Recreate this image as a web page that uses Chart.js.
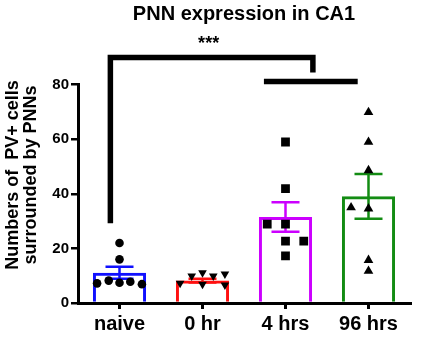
<!DOCTYPE html>
<html>
<head>
<meta charset="utf-8">
<script src="https://cdn.jsdelivr.net/npm/chart.js@4/dist/chart.umd.min.js"></script>
<style>
html,body{margin:0;padding:0;background:#fff;}
#wrap{width:427px;height:354px;}
</style>
</head>
<body>
<div id="wrap"><canvas id="c" width="427" height="354"></canvas></div>
<script>
const categories = ['naive', '0 hr', '4 hrs', '96 hrs'];
const meanValues = [11.1, 8.2, 31.5, 39.1];
const semValues = [2.2, 0.7, 5.4, 8.2];
const naiveValues = [22.0, 16.0, 7.2, 8.2, 7.4, 7.8, 6.9];
const naiveJitter = [0, 0, -0.27, -0.13, 0, 0.13, 0.27];
const hr0Values = [7.2, 9.9, 11.1, 6.9, 9.9, 10.6, 6.6];
const hr0Jitter = [-0.27, -0.13, 0, 0, 0.13, 0.27, 0.27];
const hr4Values = [59.0, 41.9, 28.9, 28.9, 22.7, 22.7, 17.3];
const hr4Jitter = [0, 0, -0.22, 0, 0, 0.22, 0];
const hr96Values = [69.9, 59.0, 48.6, 35.0, 34.6, 15.7, 11.7];
const hr96Jitter = [0, 0, 0, -0.21, 0, 0, 0];
const yTicks = [0, 20, 40, 60, 80];
const titleText = 'PNN expression in CA1';
const yTitleLines = ['Numbers of  PV+ cells', 'surrounded by PNNs'];
const sigLabel = '***';
// bracket geometry in data units (x: category index, y: value)
const bracketMain = {x0: -0.11, x1: 2.33, y: 90, yLeft: 29.2, yRight: 84.5};
const bracketSub = {x0: 1.74, x1: 2.87, y: 81.2};

const colors = ['#1010ff', '#ff1010', '#cc00ff', '#138c13'];
const FONT = "'Liberation Sans', Arial, sans-serif";

function pts(vals, jit, idx) {
  return vals.map((v, k) => ({x: idx + jit[k], y: v}));
}

const overlay = {
  id: 'overlay',
  afterDatasetDraw(chart, args) {
    if (args.index !== 0) return;
    const ctx = chart.ctx, xs = chart.scales.xs, y = chart.scales.y;
    ctx.save();
    ctx.lineWidth = 2.5;
    const cap = 14;
    meanValues.forEach((m, i) => {
      const px = xs.getPixelForValue(i);
      const top = y.getPixelForValue(m + semValues[i]);
      const bot = y.getPixelForValue(m - semValues[i]);
      ctx.strokeStyle = colors[i];
      ctx.beginPath();
      ctx.moveTo(px, top); ctx.lineTo(px, bot);
      ctx.moveTo(px - cap, top); ctx.lineTo(px + cap, top);
      ctx.moveTo(px - cap, bot); ctx.lineTo(px + cap, bot);
      ctx.stroke();
    });
    ctx.restore();
  },
  afterDraw(chart) {
    const ctx = chart.ctx, xs = chart.scales.xs, y = chart.scales.y;
    ctx.save();
    ctx.strokeStyle = '#000';
    ctx.lineWidth = 5.5;
    ctx.lineCap = 'butt';
    ctx.lineJoin = 'miter';
    ctx.beginPath();
    ctx.moveTo(xs.getPixelForValue(bracketMain.x0), y.getPixelForValue(bracketMain.yLeft));
    ctx.lineTo(xs.getPixelForValue(bracketMain.x0), y.getPixelForValue(bracketMain.y));
    ctx.lineTo(xs.getPixelForValue(bracketMain.x1), y.getPixelForValue(bracketMain.y));
    ctx.lineTo(xs.getPixelForValue(bracketMain.x1), y.getPixelForValue(bracketMain.yRight));
    ctx.stroke();
    ctx.beginPath();
    ctx.moveTo(xs.getPixelForValue(bracketSub.x0), y.getPixelForValue(bracketSub.y));
    ctx.lineTo(xs.getPixelForValue(bracketSub.x1), y.getPixelForValue(bracketSub.y));
    ctx.stroke();
    // significance label
    ctx.fillStyle = '#000';
    ctx.font = 'bold 18px ' + FONT;
    ctx.textAlign = 'center';
    ctx.textBaseline = 'middle';
    const mid = (bracketMain.x0 + bracketMain.x1) / 2;
    ctx.fillText(sigLabel, xs.getPixelForValue(mid) - 3, y.getPixelForValue(bracketMain.y) - 13);
    // y title
    ctx.font = 'bold 18px ' + FONT;
    ctx.textBaseline = 'alphabetic';
    ctx.translate(0, 175);
    ctx.rotate(-Math.PI / 2);
    ctx.fillText(yTitleLines[0], 0, 18);
    ctx.fillText(yTitleLines[1], 0, 36);
    ctx.restore();
  }
};

new Chart(document.getElementById('c'), {
  type: 'bar',
  data: {
    labels: categories,
    datasets: [
      {
        type: 'bar',
        data: meanValues,
        xAxisID: 'x',
        grouped: false,
        backgroundColor: 'rgba(255,255,255,0)',
        borderColor: colors,
        borderWidth: 3,
        borderSkipped: 'bottom',
        barPercentage: 0.64,
        categoryPercentage: 1,
        order: 2
      },
      {type: 'scatter', data: pts(naiveValues, naiveJitter, 0), xAxisID: 'xs', pointStyle: 'circle', pointRadius: 4.3, backgroundColor: '#000', borderColor: '#000', borderWidth: 0, order: 1},
      {type: 'scatter', data: pts(hr0Values, hr0Jitter, 1), xAxisID: 'xs', pointStyle: 'triangle', rotation: 180, pointRadius: 5, backgroundColor: '#000', borderColor: '#000', borderWidth: 0, order: 1},
      {type: 'scatter', data: pts(hr4Values, hr4Jitter, 2), xAxisID: 'xs', pointStyle: 'rect', pointRadius: 6.2, backgroundColor: '#000', borderColor: '#000', borderWidth: 0, order: 1},
      {type: 'scatter', data: pts(hr96Values, hr96Jitter, 3), xAxisID: 'xs', pointStyle: 'triangle', pointRadius: 5.6, backgroundColor: '#000', borderColor: '#000', borderWidth: 0, order: 1}
    ]
  },
  options: {
    responsive: false,
    animation: false,
    layout: {padding: {left: 0, right: 17, top: 0, bottom: 0}},
    plugins: {
      legend: {display: false},
      tooltip: {enabled: false},
      title: {
        display: true,
        text: titleText,
        fullSize: false,
        color: '#000',
        font: {family: FONT, size: 20, weight: 'bold', lineHeight: 1.2},
        padding: {top: 2, bottom: 58.7}
      }
    },
    scales: {
      x: {
        type: 'category',
        offset: true,
        grid: {display: true, drawOnChartArea: false, drawTicks: true, tickLength: 6, offset: false, color: '#000', lineWidth: 3},
        border: {display: true, color: '#000', width: 3},
        ticks: {color: '#000', padding: 3, font: {family: FONT, size: 20, weight: 'bold'}, maxRotation: 0},
        afterFit(s) { s.height = 51; }
      },
      xs: {
        type: 'linear',
        display: false,
        offset: false,
        min: -0.5,
        max: 3.5
      },
      y: {
        min: yTicks[0],
        max: yTicks[yTicks.length - 1],
        afterBuildTicks(s) { s.ticks = yTicks.map(v => ({value: v})); },
        grid: {display: true, drawOnChartArea: false, drawTicks: true, tickLength: 7, color: '#000', lineWidth: 2.5},
        border: {display: true, color: '#000', width: 3},
        ticks: {color: '#000', padding: 2, font: {family: FONT, size: 15, weight: 'bold'}},
        afterFit(s) { s.width = 78; }
      }
    }
  },
  plugins: [overlay]
});
</script>
</body>
</html>
